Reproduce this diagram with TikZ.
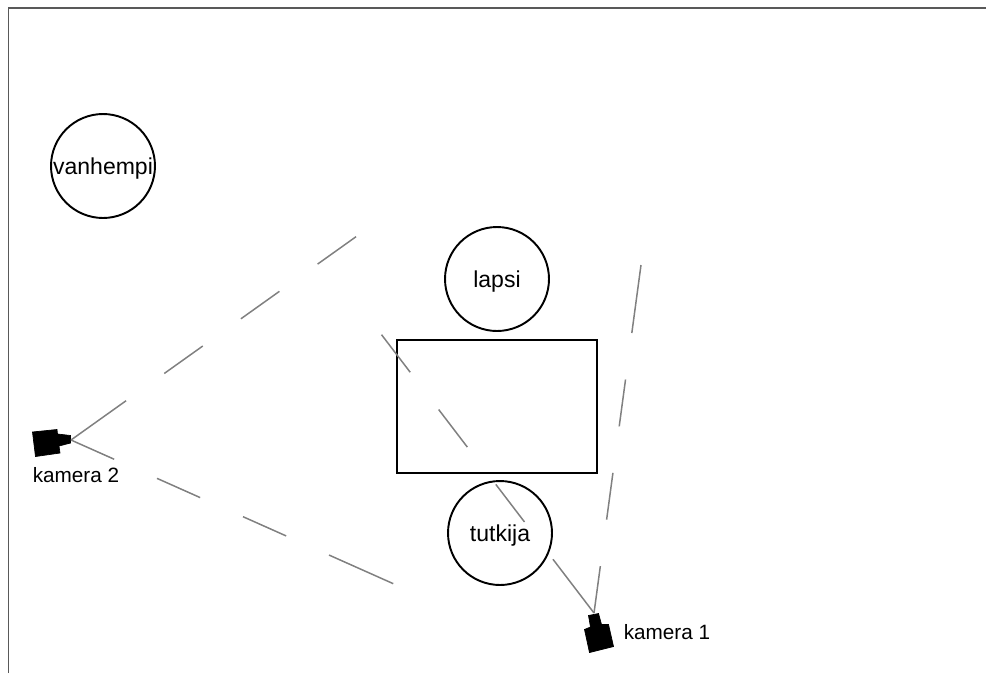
\documentclass[tikz,border=0pt]{standalone}
\usepackage{fontspec}
\setmainfont{Liberation Sans}
\tikzset{
    person/.style={draw, circle, line width=1.1pt, minimum size=2.08cm, inner sep=0pt, text height=11.6pt, text depth=1.4pt, font=\fontsize{13.1}{15}\selectfont},
    label/.style={inner sep=0pt, font=\fontsize{11.8}{14}\selectfont},
    viewlong/.style={draw=black!50, line width=0.85pt, dash pattern=on 38.5pt off 26.7pt on 26.9pt off 26.7pt on 26.9pt off 26.7pt on 26.9pt},
    viewshort/.style={draw=black!50, line width=0.85pt, dash pattern=on 26.9pt off 26.7pt on 26.9pt off 26.7pt on 26.9pt off 26.7pt on 40pt}
}
\begin{document}
\begin{tikzpicture}[x=0.02cm, y=-0.02cm]
    \useasboundingbox (0,0) rectangle (986,673);
    \draw[black!65, line width=0.6pt] (8.5,673) -- (8.5,8) -- (986,8);
    % People and table
    \node[person] (vanhempi) at (103,166) {vanhempi};
    \node[person] (lapsi) at (497,279) {lapsi};
    \node[person] (tutkija) at (500,533) {tutkija};
    \node[draw, line width=1.1pt, minimum width=4cm, minimum height=2.66cm, inner sep=0pt] (poyta) at (497,406.5) {};
    % Cameras
    \filldraw[line width=0.4pt] (32.5,432) -- (57,429.5) -- (57.5,434) -- (70.5,435.5) -- (70.5,443) -- (59,446) -- (60,453) -- (35.5,456.5) -- cycle;
    \filldraw[line width=0.4pt] (588.5,615.5) -- (598.5,613.5) -- (601.5,624.5) -- (608.5,624.5) -- (613.5,646.5) -- (589.5,652.5) -- (584.5,629.5) -- (590.5,627) -- cycle;
    \coordinate (kamera2) at (71,440);
    \coordinate (kamera1) at (594,613);
    \node[label] (nimi2) at (76,475) {kamera 2};
    \node[label] (nimi1) at (667,632) {kamera 1};
    % View lines
    \coordinate (yla2) at (357,236);
    \coordinate (ala2) at (394,584);
    \coordinate (vasen1) at (381,334);
    \coordinate (oikea1) at (641,265);
    \draw[viewlong] (kamera2) -- (yla2);
    \draw[viewshort] (kamera2) -- (ala2);
    \draw[viewlong] (kamera1) -- (vasen1);
    \draw[viewshort] (kamera1) -- (oikea1);
\end{tikzpicture}
\end{document}
